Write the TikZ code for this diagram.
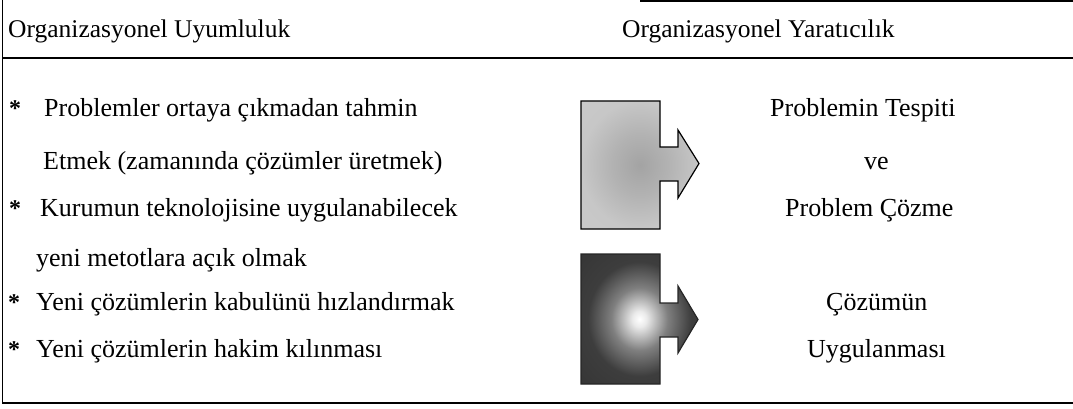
\documentclass[tikz,border=0pt]{standalone}
\usepackage{fontspec}
\setmainfont{Liberation Serif}
\pgfdeclareradialshading{lightsh}{\pgfpoint{0bp}{0bp}}{color(0bp)=(black!36); color(12bp)=(black!30); color(25bp)=(black!22); color(50bp)=(black!20)}
\pgfdeclareradialshading{darksh}{\pgfpoint{0bp}{0bp}}{color(0bp)=(white); color(3bp)=(black!8); color(12bp)=(black!50); color(22bp)=(black!76); color(50bp)=(black!82)}
\tikzset{
  frame/.style={line width=1.6pt, black},
  txt/.style={anchor=base west, inner sep=0pt, font=\fontsize{26}{30}\selectfont},
  hdr/.style={anchor=base west, inner sep=0pt, font=\fontsize{25.5}{30}\selectfont},
  star/.style={anchor=base west, inner sep=0pt, font=\fontsize{24}{30}\selectfont\bfseries},
  arrowbox/.style={draw=black, line width=1.2pt, line join=miter}
}
\begin{document}
\begin{tikzpicture}[x=1pt,y=-1pt]
\useasboundingbox (0,0) rectangle (1073,409);
% frame
\draw[frame] (2.5,0) -- (2.5,403) -- (1073,403);
\draw[frame] (2.5,58) -- (1073,58);
\draw[frame] (640,1) -- (1073,1);
% headers
\node[hdr] (h1) at (8,38) {Organizasyonel Uyumluluk};
\node[hdr] (h2) at (622,38) {Organizasyonel Yaratıcılık};
% left list
\node[star] (s1) at (9,117) {*};
\node[txt] (l1) at (44,117) {Problemler ortaya çıkmadan tahmin};
\node[txt] (l2) at (43,169) {Etmek (zamanında çözümler üretmek)};
\node[star] (s2) at (9,216) {*};
\node[txt] (l3) at (40,216) {Kurumun teknolojisine uygulanabilecek};
\node[txt] (l4) at (36,266) {yeni metotlara açık olmak};
\node[star] (s3) at (8,310) {*};
\node[txt] (l5) at (36,310) {Yeni çözümlerin kabulünü hızlandırmak};
\node[star] (s4) at (8,357) {*};
\node[txt] (l6) at (36,357) {Yeni çözümlerin hakim kılınması};
% arrow shapes
\shade[shading=lightsh] (581,101) -- (660,101) -- (660,147) -- (678,147) -- (678,130) -- (699,163.5) -- (678,198) -- (678,181) -- (660,181) -- (660,229) -- (581,229) -- cycle;
\draw[arrowbox] (581,101) -- (660,101) -- (660,147) -- (678,147) -- (678,130) -- (699,163.5) -- (678,198) -- (678,181) -- (660,181) -- (660,229) -- (581,229) -- cycle;
\shade[shading=darksh] (581,254) -- (660,254) -- (660,303) -- (678,303) -- (678,286) -- (698,319.5) -- (678,353) -- (678,337) -- (660,337) -- (660,384) -- (581,384) -- cycle;
\draw[arrowbox, draw=black!85] (581,254) -- (660,254) -- (660,303) -- (678,303) -- (678,286) -- (698,319.5) -- (678,353) -- (678,337) -- (660,337) -- (660,384) -- (581,384) -- cycle;
% right texts
\node[txt] (r1) at (770,117) {Problemin Tespiti};
\node[txt] (r2) at (864,169) {ve};
\node[txt] (r3) at (785,216) {Problem Çözme};
\node[txt] (r4) at (826,310) {Çözümün};
\node[txt] (r5) at (807,357) {Uygulanması};
\end{tikzpicture}
\end{document}
